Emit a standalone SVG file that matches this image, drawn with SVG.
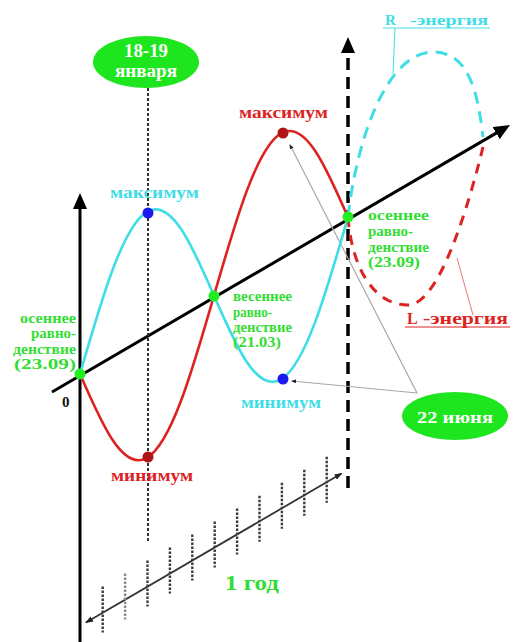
<svg xmlns="http://www.w3.org/2000/svg" width="517" height="642" viewBox="0 0 517 642">
<style>
.t{font-family:"Liberation Serif","DejaVu Serif",serif;font-weight:bold}
.g{fill:#33dd33;font-size:14px}
.cy{fill:#3fdde6;font-size:17px}
.rd{fill:#dd2222;font-size:17px}
.w{fill:#ffffff}
.axis{stroke:#000;stroke-width:3;fill:none}
.curveC{stroke:#3fdde6;stroke-width:2.6;fill:none}
.curveR{stroke:#dd2222;stroke-width:2.6;fill:none}
.tick{stroke:#3a3a3a;stroke-width:2.4;stroke-dasharray:2.5 1.5}
.ptr{stroke:#a8a8a8;stroke-width:1.2;fill:none}
</style>
<defs>
<marker id="big" viewBox="0 0 16 14" refX="2" refY="7" markerWidth="16" markerHeight="14" markerUnits="userSpaceOnUse" orient="auto">
<path d="M0,0 L16,7 L0,14 z" fill="#000"/>
</marker>
<marker id="small" viewBox="0 0 8 6" refX="7" refY="3" markerWidth="8" markerHeight="6" markerUnits="userSpaceOnUse" orient="auto-start-reverse">
<path d="M0,0 L8,3 L0,6 z" fill="#222"/>
</marker>
<marker id="tiny" viewBox="0 0 5 4" refX="4" refY="2" markerWidth="5" markerHeight="4" markerUnits="userSpaceOnUse" orient="auto">
<path d="M0,0 L5,2 L0,4 z" fill="#222"/>
</marker>
</defs>
<rect width="517" height="642" fill="#fff"/>

<g id="connectors">
<line class="axis" x1="80" y1="642" x2="80" y2="207" marker-end="url(#big)"/>
<line class="axis" x1="52" y1="392" x2="497.9" y2="132.1" marker-end="url(#big)"/>
<line x1="348" y1="488" x2="348" y2="51" stroke="#000" stroke-width="3.5" stroke-dasharray="12 7" marker-end="url(#big)"/>
<line x1="148" y1="88" x2="148" y2="543" stroke="#333" stroke-width="2" stroke-dasharray="3 2"/>
<line x1="86" y1="622.5" x2="341.5" y2="473.5" stroke="#333" stroke-width="1.8" marker-start="url(#small)" marker-end="url(#small)"/>
<g id="ticks">
<line class="tick" x1="102.7" y1="586.4" x2="102.7" y2="632.4"/>
<line class="tick" x1="125.1" y1="573.5" x2="125.1" y2="619.5" style="stroke:#8a8a8a"/>
<line class="tick" x1="147.5" y1="560.5" x2="147.5" y2="606.5"/>
<line class="tick" x1="169.9" y1="547.5" x2="169.9" y2="593.5"/>
<line class="tick" x1="192.3" y1="534.6" x2="192.3" y2="580.6"/>
<line class="tick" x1="214.7" y1="521.6" x2="214.7" y2="567.6"/>
<line class="tick" x1="237.1" y1="508.6" x2="237.1" y2="554.6"/>
<line class="tick" x1="259.5" y1="495.7" x2="259.5" y2="541.7"/>
<line class="tick" x1="281.9" y1="482.7" x2="281.9" y2="528.7"/>
<line class="tick" x1="304.3" y1="469.7" x2="304.3" y2="515.7"/>
<line class="tick" x1="326.7" y1="456.7" x2="326.7" y2="502.7"/>
</g>
<line class="ptr" x1="417" y1="393" x2="290" y2="145" marker-end="url(#tiny)"/>
<line class="ptr" x1="417" y1="393" x2="292" y2="381" marker-end="url(#tiny)"/>
<line x1="395" y1="28" x2="393" y2="74" stroke="#3fdde6" stroke-width="1"/>
<line x1="473" y1="315" x2="457" y2="258" stroke="#e07a7a" stroke-width="1"/>
</g>

<g id="curves">
<g transform="matrix(1,-0.585,0,1,80,374)">
<path class="curveC" vector-effect="non-scaling-stroke" d="M0,0 C21.85,-63 42.75,-123 67,-123 C91.25,-123 112.15,-63 134,0 C155.85,63 176.75,123 201,123 C225.25,123 246.15,63 268,0"/>
<path class="curveR" vector-effect="non-scaling-stroke" d="M0,0 C21.85,63 42.75,123 67,123 C91.25,123 112.15,63 134,0 C155.85,-63 176.75,-123 201,-123 C225.25,-123 246.15,-63 268,0"/>
</g>
<path d="M348,217 C358,130 390,52 433,52 C470,52 478,95 483,137" fill="none" stroke="#3fdde6" stroke-width="3" stroke-dasharray="12 8"/>
<path d="M348,217 C352,270 375,305 408,305 C440,305 470,200 483,147" fill="none" stroke="#dd2222" stroke-width="3" stroke-dasharray="10 8"/>
</g>

<g id="dots">
<circle cx="148" cy="213" r="5.5" fill="#1a1aee"/>
<circle cx="283" cy="379" r="5.5" fill="#1a1aee"/>
<circle cx="148" cy="457" r="5.5" fill="#b01515"/>
<circle cx="283" cy="133" r="5.5" fill="#b01515"/>
<circle cx="80" cy="374" r="5.5" fill="#22ee22"/>
<circle cx="214" cy="296" r="5.5" fill="#22ee22"/>
<circle cx="348" cy="217" r="5.5" fill="#22ee22"/>
</g>

<g id="node-jan">
<ellipse cx="146" cy="62" rx="53" ry="26" fill="#1ee61e"/>
<text class="t w" x="146" y="57" font-size="19" text-anchor="middle" textLength="44" lengthAdjust="spacingAndGlyphs">18-19</text>
<text class="t w" x="146" y="77" font-size="18" text-anchor="middle" textLength="62" lengthAdjust="spacingAndGlyphs">января</text>
</g>

<g id="node-june">
<ellipse cx="455" cy="416" rx="53" ry="24" fill="#1ee61e"/>
<text class="t w" x="455" y="423" font-size="17" text-anchor="middle" textLength="76" lengthAdjust="spacingAndGlyphs">22 июня</text>
</g>

<g id="labels">
<text class="t cy" x="110" y="198" textLength="89" lengthAdjust="spacingAndGlyphs">максимум</text>
<text class="t rd" x="239" y="118" textLength="89" lengthAdjust="spacingAndGlyphs">максимум</text>
<text class="t cy" x="241" y="408" textLength="80" lengthAdjust="spacingAndGlyphs">минимум</text>
<text class="t rd" x="111" y="481" textLength="82" lengthAdjust="spacingAndGlyphs">минимум</text>
<text class="t" x="62" y="407" font-size="15" fill="#111">0</text>
<text class="t" x="225" y="590" font-size="22" fill="#33dd33" textLength="54" lengthAdjust="spacingAndGlyphs">1 год</text>
</g>

<g id="label-autumn-left">
<text class="t g" x="20" y="323" textLength="56" lengthAdjust="spacingAndGlyphs">осеннее</text>
<text class="t g" x="31" y="338" textLength="45" lengthAdjust="spacingAndGlyphs">равно-</text>
<text class="t g" x="13" y="354" textLength="63" lengthAdjust="spacingAndGlyphs">денствие</text>
<text class="t g" x="14" y="369" textLength="62" lengthAdjust="spacingAndGlyphs">(23.09)</text>
</g>

<g id="label-spring">
<text class="t g" x="233" y="301" textLength="59" lengthAdjust="spacingAndGlyphs">весеннее</text>
<text class="t g" x="233" y="317" textLength="39" lengthAdjust="spacingAndGlyphs">равно-</text>
<text class="t g" x="233" y="332" textLength="59" lengthAdjust="spacingAndGlyphs">денствие</text>
<text class="t g" x="233" y="347" textLength="48" lengthAdjust="spacingAndGlyphs">(21.03)</text>
</g>

<g id="label-autumn-right">
<text class="t g" x="368" y="220" textLength="61" lengthAdjust="spacingAndGlyphs">осеннее</text>
<text class="t g" x="368" y="236" textLength="45" lengthAdjust="spacingAndGlyphs">равно-</text>
<text class="t g" x="368" y="252" textLength="61" lengthAdjust="spacingAndGlyphs">денствие</text>
<text class="t g" x="368" y="267" textLength="52" lengthAdjust="spacingAndGlyphs">(23.09)</text>
</g>

<g id="label-R">
<text class="t" x="385" y="25" font-size="15" fill="#3fdde6">R</text>
<text class="t" x="410" y="25" font-size="15" fill="#3fdde6" textLength="78" lengthAdjust="spacingAndGlyphs">-энергия</text>
<line x1="383" y1="28" x2="490" y2="28" stroke="#3fdde6" stroke-width="1"/>
</g>

<g id="label-L">
<text class="t" x="407" y="324" font-size="16" fill="#dd2222">L</text>
<text class="t" x="423" y="324" font-size="16" fill="#dd2222" textLength="85" lengthAdjust="spacingAndGlyphs">-энергия</text>
<line x1="405" y1="327" x2="510" y2="327" stroke="#dd2222" stroke-width="1"/>
</g>
</svg>
